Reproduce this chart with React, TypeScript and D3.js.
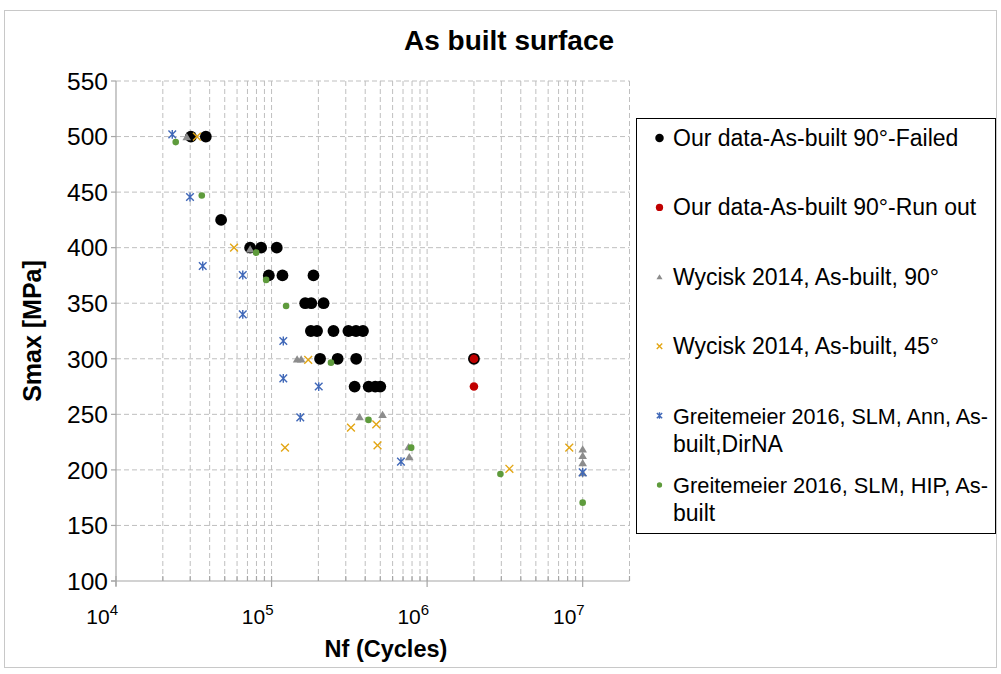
import React from "react";
import * as d3 from "d3";

// ---- data ----
const failedN = [3.03e4, 3.78e4, 4.74e4, 7.28e4, 8.57e4, 1.08e5, 9.6e4, 1.175e5, 1.86e5, 1.645e5, 1.8e5, 2.16e5, 1.79e5, 1.96e5, 2.5e5, 3.12e5, 3.49e5, 3.87e5, 2.05e5, 2.66e5, 3.5e5, 3.42e5, 4.21e5, 4.64e5, 5.0e5, 2.0e6];
const failedS = [500, 500, 425, 400, 400, 400, 375, 375, 375, 350, 350, 350, 325, 325, 325, 325, 325, 325, 300, 300, 300, 275, 275, 275, 275, 300];

const runoutN = [2.0e6, 2.0e6];
const runoutS = [300, 275];

const wy90N = [2.85e4, 7.28e4, 1.46e5, 1.55e5, 3.68e5, 5.17e5, 7.6e5, 7.68e5, 1.0e7, 1.0e7, 1.0e7, 1.0e7];
const wy90S = [500, 399, 300, 300, 248, 250, 221, 212, 219, 213, 206.5, 197.5];

const wy45N = [3.31e4, 5.74e4, 1.72e5, 1.22e5, 3.24e5, 4.71e5, 4.8e5, 3.38e6, 8.2e6];
const wy45S = [500, 400, 299, 220, 238, 241, 222, 201, 220];

const annN = [2.3e4, 2.99e4, 3.61e4, 6.53e4, 6.53e4, 1.19e5, 1.19e5, 2.01e5, 1.53e5, 6.79e5, 1.0e7];
const annS = [502, 445.6, 383.5, 375.4, 340, 316, 282.4, 275, 247.3, 207.4, 197.8];

const hipN = [2.42e4, 3.56e4, 7.96e4, 9.23e4, 1.24e5, 2.41e5, 4.2e5, 7.9e5, 2.96e6, 1.0e7];
const hipS = [495, 447, 395.5, 371, 347.5, 296.5, 245, 220, 196.3, 170.5];

const yTicks = [100, 150, 200, 250, 300, 350, 400, 450, 500, 550];
const xMajorExp = [4, 5, 6, 7];

const legendLabels = [
  ["Our data-As-built 90°-Failed"],
  ["Our data-As-built 90°-Run out"],
  ["Wycisk 2014, As-built, 90°"],
  ["Wycisk 2014, As-built, 45°"],
  ["Greitemeier 2016, SLM, Ann, As-", "built,DirNA"],
  ["Greitemeier 2016, SLM, HIP, As-", "built"],
];

const FONT = "'Liberation Sans', Arial, sans-serif";

type Kind = "black" | "red" | "tri" | "x" | "star" | "green";

function Marker({ kind, x, y, s = 1 }: { kind: Kind; x: number; y: number; s?: number }) {
  switch (kind) {
    case "black":
      return <circle cx={x} cy={y} r={5.9 * s} fill="#000" />;
    case "red":
      return <circle cx={x} cy={y} r={4.3 * s} fill="#c00000" />;
    case "green":
      return <circle cx={x} cy={y} r={3.3 * s} fill="#5e9b3c" />;
    case "tri": {
      const w = 4.3 * s, h = 7.2 * s;
      return <path d={`M${x},${y - h / 2}L${x + w},${y + h / 2}L${x - w},${y + h / 2}Z`} fill="#8c8c8c" />;
    }
    case "x": {
      const r = 3.9 * s;
      return <path d={`M${x - r},${y - r}L${x + r},${y + r}M${x - r},${y + r}L${x + r},${y - r}`} stroke="#e3a614" strokeWidth={1.4} fill="none" />;
    }
    case "star": {
      const r = 3.8 * s;
      return <path d={`M${x - r},${y - r}L${x + r},${y + r}M${x - r},${y + r}L${x + r},${y - r}M${x},${y - r - 0.6}L${x},${y + r + 0.6}`} stroke="#4068b8" strokeWidth={1.4} fill="none" />;
    }
  }
  return null;
}

export default function App() {
  const xs = d3.scaleLog().domain([1e4, 2e7]).range([116, 629.5]);
  const ys = d3.scaleLinear().domain([100, 550]).range([581, 81]);

  const minorVals: number[] = [];
  for (let e = 4; e <= 7; e++) {
    for (let m = 2; m <= 9; m++) {
      const v = m * Math.pow(10, e);
      if (v <= 2e7) minorVals.push(v);
    }
  }
  const allGrid = [...minorVals, 1e5, 1e6, 1e7];

  const series: { kind: Kind; n: number[]; s: number[] }[] = [
    { kind: "black", n: failedN, s: failedS },
    { kind: "red", n: runoutN, s: runoutS },
    { kind: "tri", n: wy90N, s: wy90S },
    { kind: "x", n: wy45N, s: wy45S },
    { kind: "star", n: annN, s: annS },
    { kind: "green", n: hipN, s: hipS },
  ];
  const legendKinds: Kind[] = ["black", "red", "tri", "x", "star", "green"];
  const legendScale = [0.72, 0.85, 0.7, 0.7, 0.7, 0.8];

  const x0 = 116, x1 = 629.5, yTop = 81, yBot = 581;

  return (
    <svg width={1001} height={674} style={{ position: "absolute", left: 0, top: 0, background: "#fff" }} fontFamily={FONT}>
      <rect x={0} y={0} width={1001} height={674} fill="#fff" />
      <rect x={4.5} y={10.5} width={992} height={657} fill="none" stroke="#c8c8c8" strokeWidth={1} />
      <text x={509} y={50} textAnchor="middle" fontSize={28} fontWeight="bold" fill="#000">As built surface</text>

      {/* gridlines */}
      {yTicks.filter((t) => t > 100).map((t) => (
        <line key={"hy" + t} x1={x0} x2={x1} y1={ys(t)} y2={ys(t)} stroke="#bfbfbf" strokeWidth={1} strokeDasharray="5,3" />
      ))}
      {allGrid.map((v) => (
        <line key={"vx" + v} x1={xs(v)} x2={xs(v)} y1={yTop} y2={yBot} stroke="#bfbfbf" strokeWidth={1} strokeDasharray="5,3" />
      ))}

      {/* axes */}
      <line x1={x0} x2={x0} y1={yTop} y2={yBot + 5} stroke="#a6a6a6" strokeWidth={1.2} />
      <line x1={x0 - 5} x2={x1} y1={yBot} y2={yBot} stroke="#a6a6a6" strokeWidth={1.2} />
      {yTicks.map((t) => (
        <g key={"yt" + t}>
          <line x1={x0 - 5} x2={x0} y1={ys(t)} y2={ys(t)} stroke="#a6a6a6" strokeWidth={1.2} />
          <text x={108} y={ys(t)} dy="0.36em" textAnchor="end" fontSize={24.5} fill="#000">{t}</text>
        </g>
      ))}
      {minorVals.map((v) => (
        <line key={"mt" + v} x1={xs(v)} x2={xs(v)} y1={yBot - 5} y2={yBot} stroke="#a6a6a6" strokeWidth={1.2} />
      ))}
      {xMajorExp.map((e) => {
        const px = xs(Math.pow(10, e));
        return (
          <g key={"xe" + e}>
            <line x1={px} x2={px} y1={yBot - 5} y2={yBot + 6} stroke="#a6a6a6" strokeWidth={1.2} />
            <text x={px + 2} y={624} textAnchor="end" fontSize={21} fill="#000">
              10<tspan dy={-9} fontSize={15}>{e}</tspan>
            </text>
          </g>
        );
      })}

      {/* axis titles */}
      <text x={386} y={657} textAnchor="middle" fontSize={23.5} fontWeight="bold" fill="#000">Nf (Cycles)</text>
      <text transform={`translate(41,${(yTop + yBot) / 2}) rotate(-90)`} textAnchor="middle" fontSize={25} fontWeight="bold" fill="#000">Smax [MPa]</text>

      {/* data */}
      {series.map((se, si) => (
        <g key={"s" + si}>
          {se.n.map((n, i) => (
            <Marker key={i} kind={se.kind} x={xs(n)} y={ys(se.s[i])} />
          ))}
        </g>
      ))}

      {/* legend */}
      <rect x={636.5} y={118.5} width={359} height={415} fill="#fff" stroke="#000" strokeWidth={1} />
      {legendLabels.map((lines, i) => {
        const base = 146 + i * 69.4;
        return (
          <g key={"lg" + i}>
            <Marker kind={legendKinds[i]} x={659.5} y={base - 8} s={legendScale[i]} />
            {lines.map((ln, j) =>
              j === 0 && lines.length > 1 ? (
                <text key={j} x={673} y={base + j * 28} fontSize={22.5} fill="#000" textLength={315} lengthAdjust="spacingAndGlyphs">{ln}</text>
              ) : (
                <text key={j} x={673} y={base + j * 28} fontSize={23} fill="#000">{ln}</text>
              )
            )}
          </g>
        );
      })}
    </svg>
  );
}
